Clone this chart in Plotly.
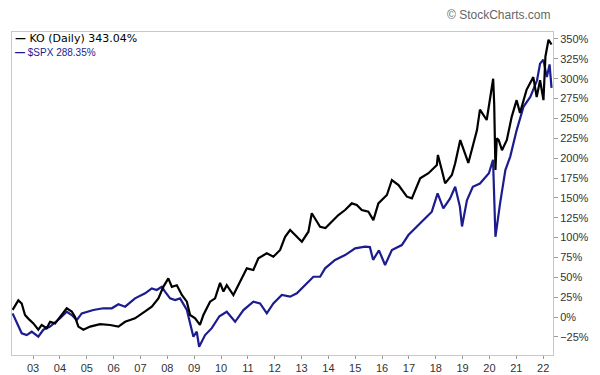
import plotly.graph_objects as go

ko_dates = ["2002-03-28","2002-06-14","2002-07-30","2002-09-13","2002-10-28","2003-01-05","2003-03-13","2003-04-28",
            "2003-07-05","2003-08-20","2003-10-27","2004-01-25","2004-04-03","2004-06-10","2004-07-25","2004-09-08",
            "2004-11-15","2005-02-15","2005-07-01","2005-11-14","2006-03-07","2006-06-06","2006-10-19","2007-03-05",
            "2007-06-04","2007-09-02","2007-11-08","2008-01-15","2008-03-03","2008-05-10","2008-07-17","2008-09-23",
            "2008-11-06","2009-01-14","2009-03-20","2009-05-06","2009-08-05","2009-10-12","2009-12-19","2010-02-03",
            "2010-03-20","2010-06-18","2010-08-25","2010-12-18","2011-03-17","2011-05-24","2011-09-16","2011-12-14",
            "2012-03-15","2012-05-22","2012-07-29","2012-10-05","2013-01-05","2013-04-04","2013-05-20","2013-09-10",
            "2013-11-22","2014-02-15","2014-05-17","2014-08-16","2014-11-15","2015-01-22","2015-03-31","2015-06-29",
            "2015-09-05","2015-11-12","2016-03-07","2016-05-14","2016-08-12","2016-12-04","2017-02-10","2017-06-03",
            "2017-09-24","2018-01-16","2018-01-30","2018-03-24","2018-05-08","2018-08-08","2018-09-22","2018-11-30",
            "2019-02-05","2019-03-20","2019-07-15","2019-08-25","2019-11-25","2020-02-01","2020-02-21","2020-03-06",
            "2020-03-23","2020-04-10","2020-05-05","2020-06-20","2020-08-25","2020-10-30","2021-01-05","2021-02-20",
            "2021-05-20","2021-08-20","2021-10-05","2021-11-20","2022-01-05","2022-02-01","2022-03-15","2022-04-25"]
ko_values = [9,21,17,2.5,-2,-8,-16,-10,
             -14,-6,-8,2.5,11,7,0,-12,
             -16,-12,-9,-10,-12,-6,-1.6,7,
             13,23.5,38,48.7,38,40,27.7,19.3,
             2.5,-1.6,-10,2.5,19.3,23.5,43,32,
             40,27.7,40,61.3,59.2,74,80.2,75.9,
             84.4,101,109.5,103,94.8,107.4,130.6,113.7,
             112,120,128.4,134.7,143.1,141,134.7,132.6,
             122,143.1,153.6,172.5,166.2,151.5,149.4,174.6,
             181,191.4,204,185,168.3,178.8,193.5,222.8,
             206,194,235,261,248,286,300,268,
             185,225,223,210,223,252,273,257,
             286,302,277,298,273,328,349,343.04]

spx_dates = ["2002-03-28","2002-05-23","2002-07-30","2002-10-06","2002-12-13","2003-03-13","2003-05-20","2003-08-20",
             "2004-01-03","2004-04-03","2004-06-10","2004-08-17","2004-10-24","2005-03-31","2005-08-14","2005-12-07",
             "2006-03-07","2006-06-06","2006-10-19","2007-03-05","2007-06-04","2007-08-10","2007-10-18","2007-12-01",
             "2008-02-08","2008-04-16","2008-06-23","2008-09-23","2008-11-06","2008-12-21","2009-02-05","2009-03-09",
             "2009-05-29","2009-08-28","2009-12-10","2010-03-20","2010-07-12","2010-11-02","2011-03-17","2011-06-16",
             "2011-09-16","2011-12-14","2012-04-07","2012-07-29","2012-10-29","2013-03-14","2013-06-11","2013-09-10",
             "2013-11-17","2014-04-02","2014-08-16","2014-12-31","2015-05-15","2015-07-20","2015-09-01","2015-11-20",
             "2016-02-11","2016-05-14","2016-09-26","2016-12-25","2017-04-17","2017-08-09","2017-11-08","2018-01-26",
             "2018-04-14","2018-07-15","2018-09-22","2018-11-25","2018-12-24","2019-03-01","2019-05-20","2019-08-25",
             "2019-12-25","2020-02-19","2020-03-06","2020-03-23","2020-05-25","2020-08-05","2020-10-10","2021-01-05",
             "2021-04-10","2021-07-10","2021-10-10","2021-11-20","2022-01-03","2022-02-20","2022-03-29","2022-04-25"]
spx_values = [4.6,-6,-20.5,-22.7,-18.5,-24.8,-16,-12,
              -1.6,6.7,2.5,-3.8,4.6,8.8,11,11,
              16,13,23.5,29.8,36,34,38,32,
              23.5,21.4,23.5,8.8,-10,-24.8,-18.5,-37.4,
              -22.7,-14,1,6.7,-6,8.8,19.3,17.2,
              4.6,17.2,27.7,25.6,29.8,42.4,50.7,50.7,
              61.3,71.8,78,86.5,88.5,88,72,84,
              65.5,84.4,90.6,103.2,113.7,124.3,132.6,155.7,
              136.8,149.4,164,139,114,147,164,168,
              181,198,160,101,143,185,202,235,
              265,277,298,319,324,302,318,288.35]

year_ticks = ["2003-01-01","2022-01-01"]
ko_label = "KO (Daily) 343.04%"
spx_label = "$SPX 288.35%"
watermark = "© StockCharts.com"

ko_color = "#000000"
spx_color = "#1c1c8f"

fig = go.Figure()
fig.add_trace(go.Scatter(x=spx_dates, y=spx_values, mode="lines",
                         line=dict(color=spx_color, width=2.2), name=spx_label))
fig.add_trace(go.Scatter(x=ko_dates, y=ko_values, mode="lines",
                         line=dict(color=ko_color, width=2.2), name=ko_label))

fig.update_layout(
    width=600, height=375,
    margin=dict(l=12, r=47, t=32, b=20, autoexpand=False),
    paper_bgcolor="white", plot_bgcolor="white",
    showlegend=False,
    font=dict(family="Liberation Sans, Arial, sans-serif", size=11, color="#333333"),
)
fig.update_xaxes(
    type="date", range=["2002-03-20", "2022-05-15"], automargin=False,
    tick0=year_ticks[0], dtick="M12", tickformat="%y",
    ticks="outside", ticklen=3, tickcolor="#999999",
    showgrid=False, zeroline=False,
    showline=True, linecolor="#c8c8c8", linewidth=1, mirror=True,
    tickfont=dict(size=11, color="#333333"),
)
fig.update_yaxes(
    side="right", range=[-47.8, 358.8], automargin=False,
    tick0=0, dtick=25, ticksuffix="%",
    ticks="outside", ticklen=4, tickcolor="#999999",
    showgrid=False, zeroline=False,
    showline=True, linecolor="#c8c8c8", linewidth=1, mirror=True,
    tickfont=dict(size=11, color="#333333"),
)

split_y = 0.957
fig.add_annotation(xref="paper", yref="paper", x=0.004, y=split_y, xanchor="left", yanchor="bottom",
                   text="<b>—</b> " + ko_label, showarrow=False, borderpad=0,
                   font=dict(size=11, color=ko_color, family="DejaVu Sans, sans-serif"))
fig.add_annotation(xref="paper", yref="paper", x=0.004, y=split_y, xanchor="left", yanchor="top",
                   text="<b>—</b> " + spx_label, showarrow=False, borderpad=0,
                   font=dict(size=10, color=spx_color, family="Liberation Sans Narrow, Liberation Sans, sans-serif"))
fig.add_annotation(xref="paper", yref="paper", x=1.0, y=1.0, yshift=17, xanchor="right", yanchor="middle",
                   text=watermark, showarrow=False,
                   font=dict(size=12, color="#666666", family="Liberation Sans, Arial, sans-serif"))

fig.write_html("out.html", config={"displayModeBar": False},
               post_script="document.body.style.margin='0';document.body.style.overflow='hidden';")
